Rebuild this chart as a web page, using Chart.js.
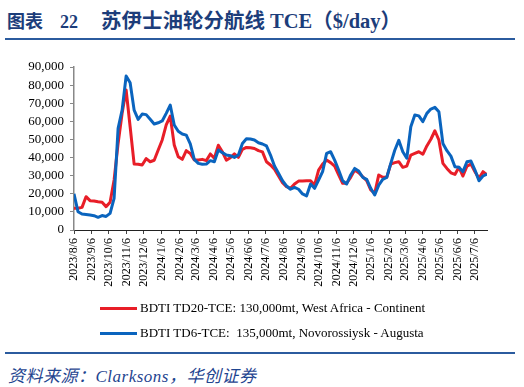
<!DOCTYPE html>
<html>
<head>
<meta charset="utf-8">
<script src="https://cdn.jsdelivr.net/npm/chart.js@4.4.0/dist/chart.umd.min.js"></script>
<style>
body{margin:0;width:524px;height:387px;background:#fff;position:relative;overflow:hidden}
.title{position:absolute;left:7px;top:4px;font-family:"Liberation Serif","Noto Sans CJK SC",serif;font-weight:bold;color:#1c3d7a;white-space:pre}
.rule{position:absolute;left:5px;width:510px;height:2px;background:#2b5b9e}
#wrap{position:absolute;left:0;top:40px;width:524px;height:260px}
#legend{position:absolute;left:100px;top:299px;font-family:"Liberation Serif",serif;font-size:13px;color:#000}
#legend div{height:25px;line-height:17px;white-space:pre}
#legend span.sw{display:inline-block;width:37px;height:3px;vertical-align:middle;margin-right:3px;position:relative;top:-1px}
.src{position:absolute;left:8px;top:362px;font-family:"Liberation Serif","Noto Sans CJK SC",serif;font-style:italic;font-size:17px;letter-spacing:0.5px;color:#1f4590;white-space:pre}
</style>
</head>
<body>
<div class="title"><span style="font-size:18px">图表</span><span style="font-size:18px;margin-left:17px">22</span><span style="font-size:20.5px;margin-left:23px">苏伊士油轮分航线 TCE（$/day）</span></div>
<div class="rule" style="top:38px"></div>
<div id="wrap"><canvas id="c"></canvas></div>
<div id="legend"></div>
<div class="rule" style="top:352px"></div>
<div class="src">资料来源：Clarksons，华创证券</div>
<script>
// weekly series, first week 2023/8/6
var startDay = [2023, 8, 6];
var tickLabels = ['2023/8/6','2023/9/6','2023/10/6','2023/11/6','2023/12/6','2024/1/6','2024/2/6','2024/3/6',
  '2024/4/6','2024/5/6','2024/6/6','2024/7/6','2024/8/6','2024/9/6','2024/10/6','2024/11/6','2024/12/6',
  '2025/1/6','2025/2/6','2025/3/6','2025/4/6','2025/5/6','2025/6/6','2025/7/6'];
var yTicks = [0, 10000, 20000, 30000, 40000, 50000, 60000, 70000, 80000, 90000];

var td20Name = 'BDTI TD20-TCE: 130,000mt, West Africa - Continent';
var td6Name = 'BDTI TD6-TCE:  135,000mt, Novorossiysk - Augusta';

var td20 = [12000,12000,12500,18400,16200,16000,15600,15300,12900,15300,
  27600,47800,64400,77300,57000,36400,36300,35900,39400,37700,
  38500,44200,49700,58000,62900,46900,40500,39000,43800,42300,
  38600,38600,39000,38300,42000,39600,46800,43200,38600,39900,
  42000,40100,44500,45600,45400,45000,43800,43100,37700,35900,
  33500,29800,26100,23900,23000,25400,27000,27000,27200,27200,
  24800,33100,36400,38600,37200,35300,30400,25800,25800,29100,
  33100,31600,29400,27200,22100,20200,30400,29100,29100,36400,
  37200,37700,34600,35300,41400,42300,43200,41800,46400,50100,
  54800,49700,36800,34000,31600,30700,34600,29800,35300,36400,
  32200,28500,32200,30400];

var td6 = [20000,10100,8800,8600,8300,7900,7000,8000,7500,9200,
  17500,56100,66200,85000,81300,66200,61100,64000,63700,61100,
  58500,59200,60200,64400,69000,58000,54500,53000,52400,47500,
  39000,36800,36300,36400,38300,37700,44200,42700,41400,41000,
  40100,41400,47800,50400,50200,49700,48200,47500,46400,41400,
  35300,31300,27200,24300,22500,23500,22500,19900,18800,25400,
  23000,27600,32200,42300,43200,38600,33100,27200,25400,30400,
  34000,32600,29100,28000,23000,19300,24800,28000,29100,36800,
  44000,49500,43200,39600,57000,63500,63000,59800,64400,66800,
  67700,65300,47800,43800,40800,34900,34600,32200,37700,38100,
  33100,27200,29800,30900];

function dayNum(s) {
  var p = s.split('/').map(Number);
  return (Date.UTC(p[0], p[1] - 1, p[2]) - Date.UTC(startDay[0], startDay[1] - 1, startDay[2])) / 86400000;
}
var labelAt = {};
tickLabels.forEach(function (l) { labelAt[dayNum(l)] = l; });

function toPoints(arr) {
  return arr.map(function (v, i) { return { x: i * 7, y: v }; });
}

Chart.defaults.font.family = '"Liberation Serif", "Times New Roman", serif';
Chart.defaults.color = '#000';

var chart = new Chart(document.getElementById('c'), {
  type: 'line',
  data: {
    datasets: [
      { label: td20Name, data: toPoints(td20), borderColor: 'rgb(232,30,40)', borderWidth: 3,
        pointRadius: 0, order: 1, borderJoinStyle: 'round' },
      { label: td6Name, data: toPoints(td6), borderColor: 'rgb(10,100,190)', borderWidth: 3,
        pointRadius: 0, order: 0, borderJoinStyle: 'round' }
    ]
  },
  options: {
    responsive: true,
    maintainAspectRatio: false,
    animation: false,
    layout: { padding: { left: 0, right: 37, top: 27, bottom: 0 } },
    plugins: { legend: { display: false }, tooltip: { enabled: false } },
    scales: {
      x: {
        type: 'linear',
        min: 0,
        max: (td20.length - 1) * 7,
        afterBuildTicks: function (scale) {
          scale.ticks = tickLabels.map(function (l) { return { value: dayNum(l) }; });
        },
        afterFit: function (scale) { scale.height = 70; },
        ticks: {
          autoSkip: false, minRotation: 90, maxRotation: 90, padding: 4,
          font: { size: 12 },
          callback: function (v) { return labelAt[v] || ''; }
        },
        grid: { drawOnChartArea: false, tickLength: 4, color: '#444' },
        border: { color: '#222', width: 1 }
      },
      y: {
        min: 0,
        max: 90000,
        afterBuildTicks: function (scale) {
          scale.ticks = yTicks.map(function (v) { return { value: v }; });
        },
        afterFit: function (scale) { scale.width = 74; },
        ticks: {
          autoSkip: false, padding: 6, font: { size: 13 },
          callback: function (v) { return v.toLocaleString('en-US'); }
        },
        grid: { drawOnChartArea: false, tickLength: 4, color: '#888' },
        border: { color: '#888', width: 1.5 }
      }
    }
  }
});

// legend from the chart datasets
var lg = document.getElementById('legend');
chart.data.datasets.forEach(function (ds) {
  var row = document.createElement('div');
  var sw = document.createElement('span');
  sw.className = 'sw';
  sw.style.background = ds.borderColor;
  row.appendChild(sw);
  row.appendChild(document.createTextNode(ds.label));
  lg.appendChild(row);
});
</script>
</body>
</html>
